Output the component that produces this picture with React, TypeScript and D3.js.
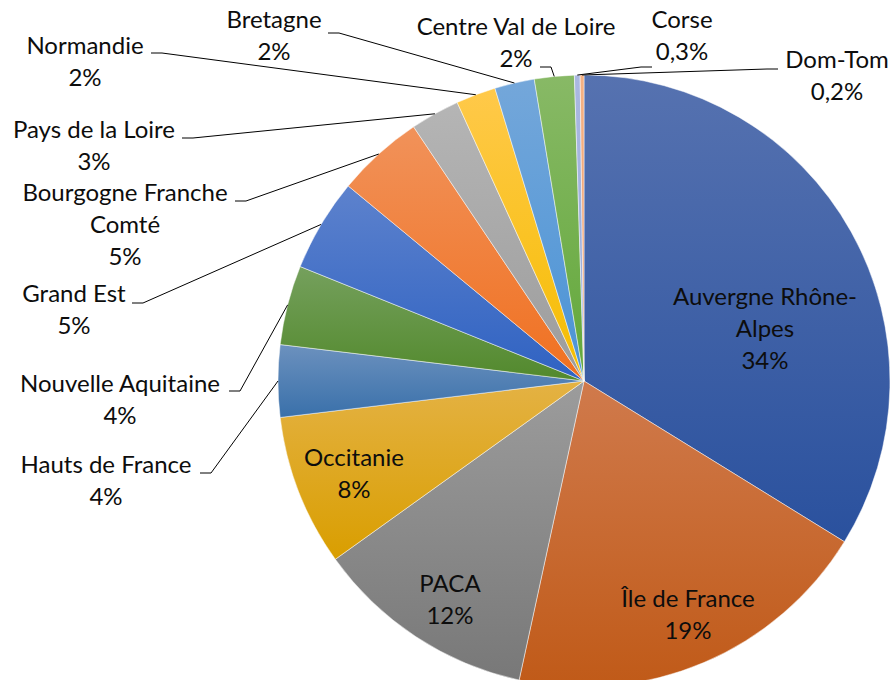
import * as d3 from "d3";
import React from "react";

// share of each region, % (clockwise from 12 o'clock)
const regions = [
  "Auvergne Rhône-Alpes",
  "Île de France",
  "PACA",
  "Occitanie",
  "Hauts de France",
  "Nouvelle Aquitaine",
  "Grand Est",
  "Bourgogne Franche Comté",
  "Pays de la Loire",
  "Normandie",
  "Bretagne",
  "Centre Val de Loire",
  "Corse",
  "Dom-Tom",
];
const shares = [33.8, 19.6, 11.7, 8.0, 3.8, 4.2, 4.9, 4.6, 2.6, 2.1, 2.1, 2.1, 0.3, 0.2];
const pctLabels = ["34%", "19%", "12%", "8%", "4%", "4%", "5%", "5%", "3%", "2%", "2%", "2%", "0,3%", "0,2%"];
// how the names wrap in the labels
const nameLines = [
  ["Auvergne Rhône-", "Alpes"],
  ["Île de France"],
  ["PACA"],
  ["Occitanie"],
  ["Hauts de France"],
  ["Nouvelle Aquitaine"],
  ["Grand Est"],
  ["Bourgogne Franche", "Comté"],
  ["Pays de la Loire"],
  ["Normandie"],
  ["Bretagne"],
  ["Centre Val de Loire"],
  ["Corse"],
  ["Dom-Tom"],
];

// gradient stops top -> bottom
const fills = [
  ["#5672b0", "#2a519e"],
  ["#d07a4c", "#c05a18"],
  ["#9c9c9c", "#787878"],
  ["#e4b244", "#d99e00"],
  ["#6c91be", "#3970aa"],
  ["#75a05d", "#52892c"],
  ["#5d82cd", "#2f62c2"],
  ["#f1925a", "#f07020"],
  ["#b5b5b5", "#9c9c9c"],
  ["#ffc94a", "#f5bd00"],
  ["#74a7da", "#4a93d6"],
  ["#88b966", "#62a83a"],
  ["#aab8e0", "#98acdc"],
  ["#f4b183", "#f0a070"],
];

// label placement (centre x, first baseline), leader start for outside ones
const labelPos = [
  { x: 765, y: 305 },
  { x: 688, y: 607 },
  { x: 450, y: 592 },
  { x: 354, y: 466 },
  { x: 106, y: 473, lx: 200, ly: 473, dir: 1 },
  { x: 120, y: 392, lx: 229, ly: 391, dir: 1 },
  { x: 74, y: 302, lx: 132, ly: 303, dir: 1 },
  { x: 125, y: 201, lx: 235, ly: 201, dir: 1 },
  { x: 94, y: 138, lx: 182, ly: 138, dir: 1 },
  { x: 85, y: 54, lx: 151, ly: 53, dir: 1 },
  { x: 274, y: 28, lx: 328, ly: 33, dir: 1 },
  { x: 516, y: 35, lx: 540, ly: 67, dir: 1 },
  { x: 682, y: 28, lx: 652, ly: 67, dir: -1 },
  { x: 837, y: 68, lx: 778, ly: 69, dir: -1 },
];

const width = 891;
const height = 680;
const cx = 584;
const cy = 381;
const radius = 306;
const lineH = 32;

export default function App() {
  const data = regions.map((r, i) => ({ region: r, value: shares[i], i }));
  const arcs = d3
    .pie<any>()
    .sort(null)
    .value((d) => d.value)(data);
  const arc = d3.arc<any>().innerRadius(0).outerRadius(radius);
  const edge = (a: any) => {
    const m = (a.startAngle + a.endAngle) / 2;
    return [cx + radius * Math.sin(m), cy - radius * Math.cos(m)];
  };

  return (
    <svg
      width={width}
      height={height}
      style={{ position: "absolute", left: 0, top: 0, background: "#fff" }}
      fontFamily="Lato, 'Open Sans', sans-serif"
      fontSize={24}
    >
      <defs>
        {fills.map((f, i) => (
          <linearGradient key={i} id={"g" + i} x1="0" y1="0" x2="0" y2="1">
            <stop offset="0" stopColor={f[0]} />
            <stop offset="1" stopColor={f[1]} />
          </linearGradient>
        ))}
      </defs>
      <g transform={`translate(${cx},${cy})`}>
        {arcs.map((a, i) => (
          <path
            key={i}
            d={arc(a) || ""}
            fill={`url(#g${i})`}
            stroke="#fff"
            strokeOpacity={0.6}
            strokeWidth={0.8}
          />
        ))}
      </g>
      {arcs.map((a, i) => {
        const p = labelPos[i];
        if (p.lx === undefined) return null;
        const [ex, ey] = edge(a);
        const line = d3.line()([
          [p.lx, p.ly],
          [p.lx + p.dir * 11, p.ly],
          [ex, ey],
        ]);
        return <path key={i} d={line || ""} fill="none" stroke="#000" strokeWidth={1} />;
      })}
      {arcs.map((a, i) => {
        const p = labelPos[i];
        const lines = [...nameLines[i], pctLabels[i]];
        return (
          <text key={i} textAnchor="middle" fill="#0d0d0d">
            {lines.map((t, j) => (
              <tspan key={j} x={p.x} y={p.y + j * lineH}>
                {t}
              </tspan>
            ))}
          </text>
        );
      })}
    </svg>
  );
}
